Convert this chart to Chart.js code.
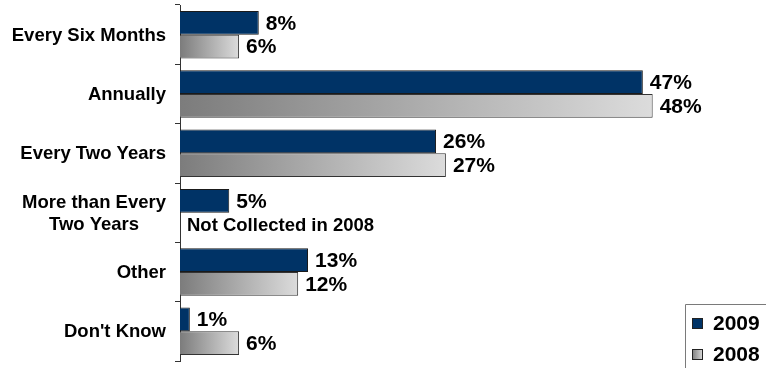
<!DOCTYPE html>
<html>
<head>
<meta charset="utf-8">
<script src="https://cdn.jsdelivr.net/npm/chart.js@4/dist/chart.umd.min.js"></script>
<style>
  html, body { margin: 0; padding: 0; background: #fff; }
  #wrap { width: 766px; height: 368px; }
</style>
</head>
<body>
<div id="wrap"><canvas id="grafico"></canvas></div>
<script>
const categorias = [
    ["Every Six Months"],
    ["Annually"],
    ["Every Two Years"],
    ["More than Every", "Two Years"],
    ["Other"],
    ["Don't Know"]
];
const valores2009 = [8, 47, 26, 5, 13, 1];
const valores2008 = [6, 48, 27, null, 12, 6];
const rotulos = ["2009", "2008"];
const semDado = "Not Collected in 2008";

const fonte = "Arial, 'Liberation Sans', sans-serif";

function gradienteCinza(ctx, x0, x1){
    const g = ctx.createLinearGradient(x0, 0, x1, 0);
    g.addColorStop(0, "#7c7c7c");
    g.addColorStop(1, "#dcdcdc");
    return g;
}

function corCinza(context){
    const chart = context.chart;
    if(!chart.chartArea || context.raw == null) return "#aaaaaa";
    const x = chart.scales.x;
    return gradienteCinza(chart.ctx, x.getPixelForValue(0), x.getPixelForValue(context.raw));
}

// nomes das categorias: linha unica alinhada a direita, duas linhas centralizadas no bloco
const rotulosCategoria = {
    id: "rotulosCategoria",
    afterDraw(chart){
        const ctx = chart.ctx;
        const y = chart.scales.y;
        const direita = 166;
        ctx.save();
        ctx.font = "bold 18.5px " + fonte;
        ctx.fillStyle = "#000";
        ctx.textBaseline = "middle";
        categorias.forEach((linhas, i) => {
            const cy = y.getPixelForTick(i) + 1;
            const alt = 22;
            const larg = Math.max(...linhas.map(l => ctx.measureText(l).width));
            linhas.forEach((linha, j) => {
                const ly = cy + (j - (linhas.length - 1) / 2) * alt;
                if(linhas.length > 1){
                    ctx.textAlign = "center";
                    ctx.fillText(linha, direita - larg / 2, ly);
                } else {
                    ctx.textAlign = "right";
                    ctx.fillText(linha, direita, ly);
                }
            });
        });
        ctx.restore();
    }
};

// valores ao lado de cada barra
const rotulosValor = {
    id: "rotulosValor",
    afterDatasetsDraw(chart){
        const ctx = chart.ctx;
        const x = chart.scales.x;
        ctx.save();
        ctx.fillStyle = "#000";
        ctx.textBaseline = "middle";
        ctx.textAlign = "left";
        chart.data.datasets.forEach((ds, d) => {
            const meta = chart.getDatasetMeta(d);
            meta.data.forEach((bar, i) => {
                const v = ds.data[i];
                if(v == null){
                    const ref = chart.getDatasetMeta(0).data[i];
                    ctx.font = "bold 18.5px " + fonte;
                    ctx.fillText(semDado, x.getPixelForValue(0) + 7, ref.y + ref.height + 1);
                    return;
                }
                ctx.font = "bold 21px " + fonte;
                ctx.fillText(v + "%", x.getPixelForValue(v) + 7, bar.y + 1);
            });
        });
        ctx.restore();
    }
};

// legenda no canto inferior direito
const legenda = {
    id: "legenda",
    afterDraw(chart){
        const ctx = chart.ctx;
        ctx.save();
        ctx.strokeStyle = "#7a7a7a";
        ctx.lineWidth = 1;
        ctx.beginPath();
        ctx.moveTo(685.5, 380);
        ctx.lineTo(685.5, 304.5);
        ctx.lineTo(780, 304.5);
        ctx.stroke();

        const linhasY = [318, 349];
        ctx.font = "bold 21px " + fonte;
        ctx.textBaseline = "middle";
        ctx.textAlign = "left";
        chart.data.datasets.forEach((ds, d) => {
            const by = linhasY[d];
            ctx.fillStyle = d === 0 ? ds.backgroundColor : gradienteCinza(ctx, 692, 703);
            ctx.fillRect(692, by, 11, 11);
            ctx.strokeStyle = "#222";
            ctx.strokeRect(692.5, by + 0.5, 10, 10);
            ctx.fillStyle = "#000";
            ctx.fillText(ds.label, 713, by + 6.5);
        });
        ctx.restore();
    }
};

new Chart(document.getElementById("grafico"), {
    type: "bar",
    data: {
        labels: categorias,
        datasets: [
            {
                label: rotulos[0],
                data: valores2009,
                backgroundColor: "#003366",
                borderColor: "#1a1a1a",
                borderWidth: 1,
                barPercentage: 1,
                categoryPercentage: 0.8
            },
            {
                label: rotulos[1],
                data: valores2008,
                backgroundColor: corCinza,
                borderColor: "#333",
                borderWidth: 1,
                barPercentage: 1,
                categoryPercentage: 0.8
            }
        ]
    },
    options: {
        indexAxis: "y",
        responsive: true,
        maintainAspectRatio: false,
        animation: false,
        layout: { padding: { top: 5, bottom: 7, right: 5, left: 0 } },
        plugins: {
            legend: { display: false },
            tooltip: { enabled: false }
        },
        scales: {
            x: {
                display: false,
                min: 0,
                max: 59
            },
            y: {
                afterFit(scale){ scale.width = 180; },
                ticks: { display: false },
                grid: {
                    drawOnChartArea: false,
                    drawTicks: true,
                    tickLength: 5,
                    color: "#333",
                    offset: true
                },
                border: { display: true, color: "#333", width: 1 }
            }
        }
    },
    plugins: [rotulosCategoria, rotulosValor, legenda]
});
</script>
</body>
</html>
